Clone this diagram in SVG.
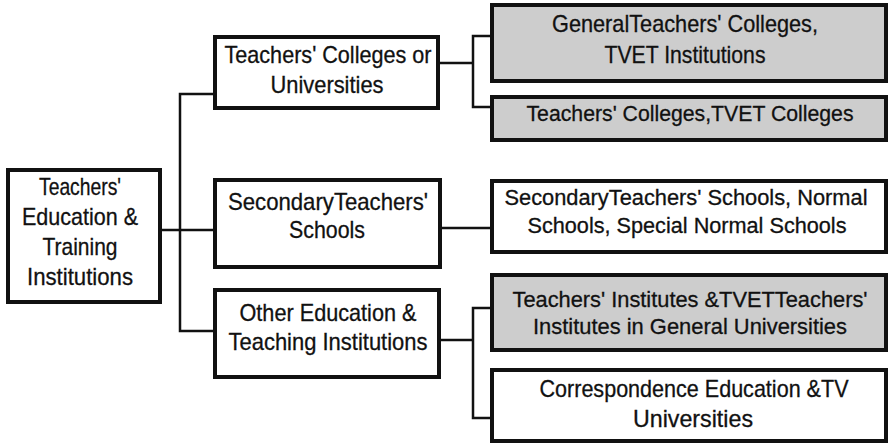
<svg xmlns="http://www.w3.org/2000/svg" width="890" height="448" viewBox="0 0 890 448">
<style>
.box{fill:#ffffff;stroke:#111111;stroke-width:4}
.gray{fill:#cdcdcd;stroke:#111111;stroke-width:4}
.lbl{font-family:"Liberation Sans",Arial,sans-serif;font-size:24px;fill:#111111;stroke:#111111;stroke-width:0.3;text-anchor:middle}
.long{font-size:22px}
.conn{fill:none;stroke:#111111;stroke-width:2.5}
</style>
<rect width="890" height="448" fill="#ffffff"/>
<g id="connectors">
<path class="conn" d="M162,230 H213"/>
<path class="conn" d="M213,94 H180 V331 H213"/>
<path class="conn" d="M440,63 H473"/>
<path class="conn" d="M490,36 H473 V107 H490"/>
<path class="conn" d="M442,228 H490"/>
<path class="conn" d="M441,340 H473"/>
<path class="conn" d="M490,308 H473 V418 H490"/>
</g>
<g id="root">
<rect class="box" x="8" y="170" width="152" height="132"/>
<text class="lbl" x="80" y="195" textLength="82" lengthAdjust="spacingAndGlyphs">Teachers'</text>
<text class="lbl" x="80" y="225" textLength="116" lengthAdjust="spacingAndGlyphs">Education &amp;</text>
<text class="lbl" x="80" y="255" textLength="75" lengthAdjust="spacingAndGlyphs">Training</text>
<text class="lbl" x="80" y="285" textLength="106" lengthAdjust="spacingAndGlyphs">Institutions</text>
</g>
<g id="colleges">
<rect class="box" x="215" y="37" width="223" height="71"/>
<text class="lbl" x="328" y="63" textLength="207" lengthAdjust="spacingAndGlyphs">Teachers' Colleges or</text>
<text class="lbl" x="327" y="93" textLength="113" lengthAdjust="spacingAndGlyphs">Universities</text>
</g>
<g id="secondary">
<rect class="box" x="215" y="180" width="225" height="87"/>
<text class="lbl" x="328" y="210" textLength="200" lengthAdjust="spacingAndGlyphs">SecondaryTeachers'</text>
<text class="lbl" x="327" y="238" textLength="76" lengthAdjust="spacingAndGlyphs">Schools</text>
</g>
<g id="other">
<rect class="box" x="215" y="290" width="224" height="87"/>
<text class="lbl" x="328" y="321" textLength="177" lengthAdjust="spacingAndGlyphs">Other Education &amp;</text>
<text class="lbl" x="328" y="350" textLength="199" lengthAdjust="spacingAndGlyphs">Teaching Institutions</text>
</g>
<g id="general">
<rect class="gray" x="492" y="5" width="394" height="76"/>
<text class="lbl" x="685" y="32" textLength="266" lengthAdjust="spacingAndGlyphs">GeneralTeachers' Colleges,</text>
<text class="lbl" x="685" y="63" textLength="161" lengthAdjust="spacingAndGlyphs">TVET Institutions</text>
</g>
<g id="tvetColleges">
<rect class="gray" x="492" y="97" width="394" height="43"/>
<text class="lbl long" x="690" y="121" textLength="327" lengthAdjust="spacingAndGlyphs">Teachers' Colleges,TVET Colleges</text>
</g>
<g id="normal">
<rect class="box" x="492" y="181" width="394" height="71"/>
<text class="lbl long" x="686" y="205" textLength="363" lengthAdjust="spacingAndGlyphs">SecondaryTeachers' Schools, Normal</text>
<text class="lbl long" x="687" y="233" textLength="319" lengthAdjust="spacingAndGlyphs">Schools, Special Normal Schools</text>
</g>
<g id="institutes">
<rect class="gray" x="492" y="275" width="394" height="75"/>
<text class="lbl long" x="690" y="307" textLength="355" lengthAdjust="spacingAndGlyphs">Teachers' Institutes &amp;TVETTeachers'</text>
<text class="lbl long" x="690" y="334" textLength="314" lengthAdjust="spacingAndGlyphs">Institutes in General Universities</text>
</g>
<g id="correspondence">
<rect class="box" x="492" y="370" width="394" height="71"/>
<text class="lbl" x="694" y="397" textLength="309" lengthAdjust="spacingAndGlyphs">Correspondence Education &amp;TV</text>
<text class="lbl" x="693" y="427" textLength="120" lengthAdjust="spacingAndGlyphs">Universities</text>
</g>
</svg>
